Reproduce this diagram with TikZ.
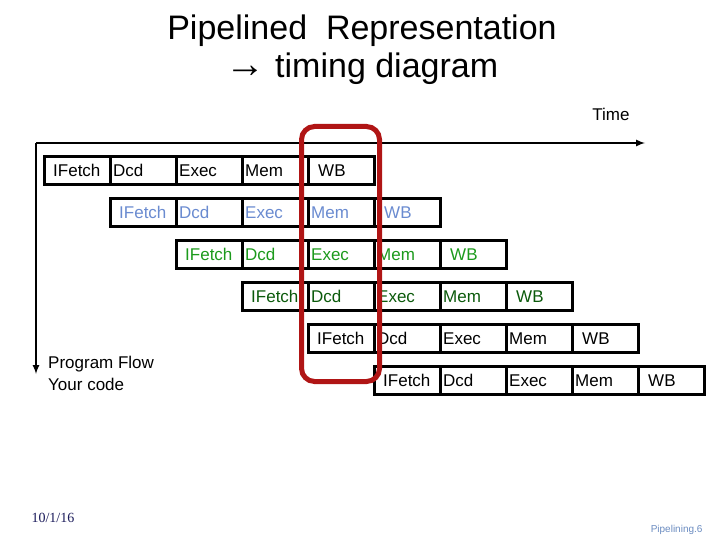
\documentclass[tikz,border=0pt]{standalone}
\usepackage{fontspec}
\setmainfont{Liberation Sans}
\newfontfamily\serifdate{Liberation Serif}
\begin{document}
\begin{tikzpicture}[x=1pt,y=-1pt,
  stage/.style={draw=black,line width=3pt,minimum width=66pt,minimum height=28pt,inner sep=0pt,anchor=north west},
  lbl/.style={font=\fontsize{17}{18}\selectfont,anchor=base west,inner sep=0pt},
  flow/.style={line width=2pt,-latex}]
\definecolor{rowb}{HTML}{6A8BD0}
\definecolor{rowg}{HTML}{1C9A1C}
\definecolor{rowd}{HTML}{0B5A0B}
\definecolor{hl}{HTML}{B01515}
\definecolor{foot}{HTML}{1A1A5A}
\definecolor{pg}{HTML}{6A8BC0}
\useasboundingbox (0,0) rectangle (720,540);
\node[font=\fontsize{34}{38}\selectfont,align=center] (title) at (362,50) {Pipelined \ Representation\\{\fontsize{40}{38}\selectfont\textbf{→}} timing diagram};
\node[font=\fontsize{17}{20}\selectfont] (time) at (611,114) {Time};
\coordinate (o) at (36,143);
\coordinate (te) at (645,143);
\coordinate (pe) at (36,374);
\draw[flow] (o) -- (te);
\draw[flow] (o) -- (pe);
\node[font=\fontsize{17}{22}\selectfont,align=left,anchor=north west,inner sep=0pt] (pf) at (48,356) {Program Flow\\Your code};
\foreach \r/\c in {0/black,1/rowb,2/rowg,3/rowd,4/black,5/black}{
  \pgfmathsetmacro{\x}{43+66*\r}
  \pgfmathsetmacro{\y}{155+42*\r}
  \node[stage] (s\r a) at (\x,\y) {};
  \node[stage] (s\r b) at (\x+66,\y) {};
  \node[stage] (s\r c) at (\x+132,\y) {};
  \node[stage] (s\r d) at (\x+198,\y) {};
  \node[stage] (s\r e) at (\x+264,\y) {};
  \node[lbl,text=\c] (l\r a) at ([xshift=10pt,yshift=-6pt]s\r a.west) {IFetch};
  \node[lbl,text=\c] (l\r b) at ([xshift=4pt,yshift=-6pt]s\r b.west) {Dcd};
  \node[lbl,text=\c] (l\r c) at ([xshift=4pt,yshift=-6pt]s\r c.west) {Exec};
  \node[lbl,text=\c] (l\r d) at ([xshift=4pt,yshift=-6pt]s\r d.west) {Mem};
  \node[lbl,text=\c] (l\r e) at ([xshift=11pt,yshift=-6pt]s\r e.west) {WB};
}
\node[draw=hl,line width=5pt,rounded corners=13pt,minimum width=78pt,minimum height=255pt,anchor=north west,inner sep=0pt] (hlbox) at (299,124) {};
\node[font=\serifdate\fontsize{14}{15}\selectfont,text=foot,anchor=west] (date) at (28,518) {10/1/16};
\node[font=\fontsize{10}{12}\selectfont,text=pg,anchor=east] (pgn) at (706,530) {Pipelining.6};
\end{tikzpicture}
\end{document}
